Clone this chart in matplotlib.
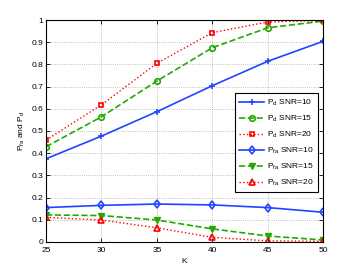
import numpy as np
from matplotlib import pyplot as plt
from matplotlib.ticker import FuncFormatter

plt.rcParams['font.family'] = ['Liberation Sans', 'DejaVu Sans']
plt.rcParams['font.size'] = 6
plt.rcParams['mathtext.fontset'] = 'custom'
plt.rcParams['mathtext.rm'] = 'Liberation Sans'
plt.rcParams['mathtext.it'] = 'Liberation Sans'

K = [25, 30, 35, 40, 45, 50]
pd_snr10 = [0.375, 0.477, 0.587, 0.704, 0.814, 0.904]
pd_snr15 = [0.429, 0.564, 0.725, 0.875, 0.965, 0.995]
pd_snr20 = [0.459, 0.618, 0.805, 0.943, 0.991, 0.998]
pfa_snr10 = [0.155, 0.165, 0.171, 0.167, 0.155, 0.134]
pfa_snr15 = [0.122, 0.119, 0.099, 0.059, 0.027, 0.009]
pfa_snr20 = [0.111, 0.099, 0.064, 0.021, 0.005, 0.003]

blue = '#2244ff'
green = '#22aa00'
red = '#ff0000'

fig = plt.figure(figsize=(3.57, 2.73), dpi=100)
ax = fig.add_axes([0.129, 0.1136, 0.776, 0.8131])

ax.plot(K, pd_snr10, '-', color=blue, marker='+', ms=5, mew=1.2, lw=1.2, label='P$_d$ SNR=10')
ax.plot(K, pd_snr15, '--', color=green, marker='o', ms=4, mew=1.2, mfc='none', lw=1.2, label='P$_d$ SNR=15')
ax.plot(K, pd_snr20, ':', color=red, marker='s', ms=3.5, mew=1.2, mfc='none', lw=1.0, label='P$_d$ SNR=20')
ax.plot(K, pfa_snr10, '-', color=blue, marker='d', ms=4.5, mew=1.2, mfc='none', lw=1.2, label='P$_{fa}$ SNR=10')
ax.plot(K, pfa_snr15, '--', color=green, marker='v', ms=5, mew=1.0, lw=1.2, label='P$_{fa}$ SNR=15')
ax.plot(K, pfa_snr20, ':', color=red, marker='^', ms=5, mew=1.2, mfc='none', lw=1.0, label='P$_{fa}$ SNR=20')

ax.set_xlim(25, 50)
ax.set_ylim(0, 1)
ax.set_xticks(K)
ax.set_yticks(np.arange(0, 1.01, 0.1))
ax.yaxis.set_major_formatter(FuncFormatter(lambda v, p: ('%g' % round(v, 1))))
ax.tick_params(direction='in', length=3, width=0.6, top=True, right=True, pad=2)
ax.tick_params(axis='x', pad=3.5)
ax.grid(True, linestyle=':', color='#aaaaaa', lw=0.6)
for s in ax.spines.values():
    s.set_linewidth(0.8)

ax.set_xlabel('K', labelpad=3)
ax.set_ylabel('P$_{fa}$ and P$_d$', labelpad=3)

leg = ax.legend(loc='upper right', bbox_to_anchor=(0.995, 0.688), fancybox=False,
                edgecolor='black', framealpha=1, handlelength=3.0, handletextpad=0.3,
                labelspacing=0.7, borderpad=0.5)
leg.get_frame().set_linewidth(0.8)

fig.savefig('out.png', dpi=100)
